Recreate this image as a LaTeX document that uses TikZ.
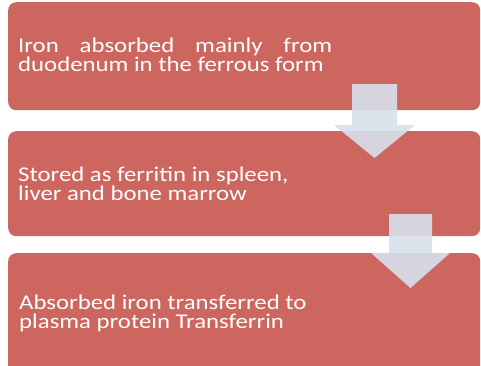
\documentclass[tikz,border=0pt]{standalone}
\usepackage{fontspec}
\setmainfont{Carlito}[FakeStretch=1.18]
\definecolor{boxred}{RGB}{205,102,94}
\definecolor{arrowc}{RGB}{216,224,236}
\newcommand\boxtxtfont{\fontsize{21}{19}\selectfont\lineskiplimit -50pt\relax}
\begin{document}
\begin{tikzpicture}[x=1pt,y=-1pt,
  box/.style={fill=boxred, rounded corners=8pt, inner sep=0pt, anchor=north west},
  txt/.style={text=white, font=\boxtxtfont, align=left, inner sep=0pt, anchor=base west},
  blockarrow/.style={fill=arrowc, fill opacity=0.9}]
\useasboundingbox (0,0) rectangle (481,365);
\clip (0,0) rectangle (481,365);
\fill[white] (0,0) rectangle (481,365);
\node[box, minimum width=472pt, minimum height=108pt] (b1) at (8,2) {};
\node[box, minimum width=472pt, minimum height=105pt] (b2) at (8,131) {};
\node[box, minimum width=472pt, minimum height=130pt] (b3) at (8,253) {};
\fill[blockarrow] (352,84) -- (397,84) -- (397,125) -- (415,125) -- (374.5,158) -- (334,125) -- (352,125) -- cycle;
\fill[blockarrow] (389,214) -- (432,214) -- (432,253) -- (450,253) -- (410.5,288) -- (371,253) -- (389,253) -- cycle;
\node[txt] (t1) at (18,71) {\makebox[314pt][s]{Iron absorbed mainly from}\\duodenum in the ferrous form};
\node[txt] (t2) at (18,200) {Stored as ferritin in spleen,\\liver and bone marrow};
\node[txt] (t3) at (19,328) {Absorbed iron transferred to\\plasma protein Transferrin};
\end{tikzpicture}
\end{document}
